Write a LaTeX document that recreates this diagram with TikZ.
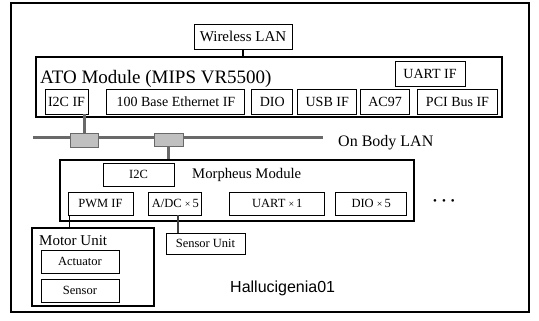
\documentclass[tikz,border=0pt]{standalone}
\usepackage{fontspec}
\setmainfont{Liberation Serif}
\setsansfont{Liberation Sans}
\usepackage{tikz}
\usetikzlibrary{positioning}
\definecolor{portgrey}{RGB}{192,192,192}
\definecolor{langrey}{RGB}{105,105,105}
\newcommand{\countx}{{\fontsize{10}{12}\selectfont ×}\,}

\begin{document}
\begin{tikzpicture}[
			x=1pt, y=-1pt,
			box/.style={rectangle, draw=black, line width=0.9pt, inner sep=0pt, minimum height=25pt, align=center, font=\fontsize{14}{16}\selectfont},
			smallbox/.style={box, minimum height=23pt, font=\fontsize{12.5}{14}\selectfont},
			module/.style={rectangle, draw=black, line width=1.8pt, inner sep=0pt},
			title/.style={inner sep=0pt, anchor=west},
			port/.style={rectangle, draw=langrey, fill=portgrey, line width=1pt, inner sep=0pt, minimum width=28pt, minimum height=14pt},
			link/.style={line width=2.2pt, black},
			lanlink/.style={line width=3pt, langrey}
			]
			\useasboundingbox (0,0) rectangle (539,321);
			\draw[line width=1.8pt] (11,3) rectangle (529,312);
			
			% ATO module
			\node[box, minimum width=98pt, font=\fontsize{15}{17}\selectfont] (wlan) at (243,36.5) {Wireless LAN};
			\node[module, minimum width=466pt, minimum height=60pt] (ato) at (269,87) {};
			\node[inner sep=0pt, anchor=base west, font=\fontsize{19}{21}\selectfont] (atotitle) at (40,84) {ATO Module (MIPS VR5500)};
			\node[box, minimum width=70pt] (uartif) at (430,73.5) {UART IF};
			\node[box, minimum width=43pt] (i2cif) at (66.5,101.5) {I2C IF};
			\node[box, minimum width=138pt, right=18pt of i2cif] (eth) {100 Base Ethernet IF};
			\node[box, minimum width=41pt, right=6pt of eth] (dio) {DIO};
			\node[box, minimum width=59pt, right=4pt of dio] (usbif) {USB IF};
			\node[box, minimum width=49pt, right=3pt of usbif] (ac97) {AC97};
			\node[box, minimum width=80pt, right=7pt of ac97] (pciif) {PCI Bus IF};
			
			% On Body LAN
			\coordinate (busW) at (33,138);
			\coordinate (busE) at (323,138);
			\draw[lanlink] (busW) -- (busE);
			\node[port] (port1) at (84,141) {};
			\node[port, minimum width=29pt, minimum height=13pt] (port2) at (168.5,140.5) {};
			\node[title, font=\fontsize{16}{18}\selectfont] (lantitle) at (338,143) {On Body LAN};
			
			% Morpheus module
			\node[module, line width=1.4pt, minimum width=354pt, minimum height=61pt] (morpheus) at (237,190.5) {};
			\node[smallbox, minimum width=71pt] (i2c) at (138.5,174.5) {I2C};
			\node[title, font=\fontsize{14.7}{16}\selectfont] (morphtitle) at (192,175) {Morpheus Module};
			\node[smallbox, minimum width=65pt] (pwm) at (100.5,203.5) {PWM IF};
			\node[smallbox, minimum width=53pt, right=15pt of pwm] (adc) {A/DC \countx5};
			\node[smallbox, minimum width=95pt, right=27pt of adc] (uart) {UART \countx1};
			\node[smallbox, minimum width=71pt, right=10pt of uart] (dio5) {DIO \countx5};
			\node[inner sep=0pt, font=\fontsize{11}{12}\selectfont] (more) at (444,202) {\textbullet\hspace{5pt}\textbullet\hspace{5pt}\textbullet};
			
			% Units
			\node[module, line width=1.5pt, minimum width=122pt, minimum height=78pt] (motor) at (93,267) {};
			\node[title, font=\fontsize{15}{17}\selectfont] (motortitle) at (39,241) {Motor Unit};
			\node[smallbox, minimum width=78pt] (actuator) at (80,261.5) {Actuator};
			\node[smallbox, minimum width=78pt] (sensor) at (80,290.5) {Sensor};
			\node[smallbox, minimum width=79pt, minimum height=21pt] (sensorunit) at (205.5,243.5) {Sensor Unit};
			\node[title, font=\sffamily\fontsize{16}{18}\selectfont] (robot) at (230,288) {Hallucigenia01};
			
			% Links
			\draw[link] (wlan) -- (wlan |- ato.north);
			\draw[lanlink] (port1.north) -- (port1.north |- i2cif.south);
			\draw[lanlink] (port2.south) -- (port2.south |- morpheus.north);
			\draw[link, line width=1.8pt] ([xshift=2pt]pwm.south west) -- ([xshift=2pt]pwm.south west |- motor.north);
			\draw[link, langrey!60!black] ([xshift=2.5pt]adc.south) -- ([xshift=2.5pt]adc.south |- sensorunit.north);
		\end{tikzpicture}
\end{document}
